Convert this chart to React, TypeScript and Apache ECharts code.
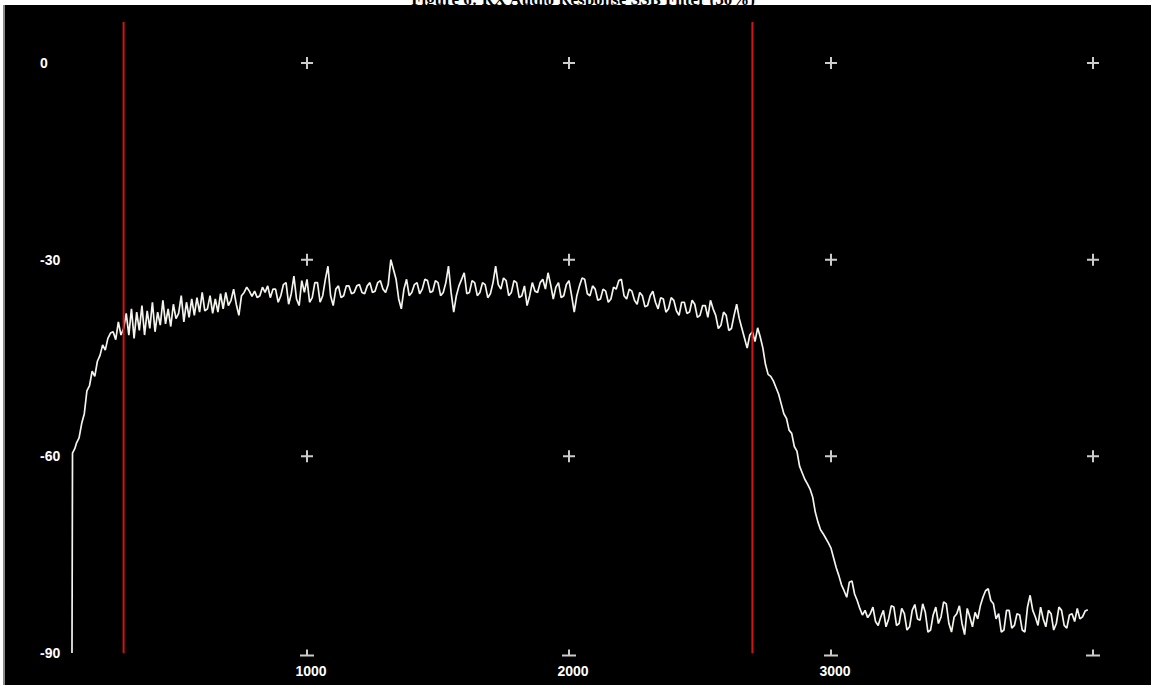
import { useEffect, useRef } from "react";
import * as echarts from "echarts";

const TITLE = "Figure 6: RX Audio Response SSB Filter (30%)";
const X_LABELS = [1000, 2000, 3000];
const CROSS_X = [1000, 2000, 3000, 4000];
const CROSS_Y = [0, -30, -60];
const BASE_Y = -90;
const MARKER_HZ = [300, 2700];
const RISE_HZ = [103, 105, 114];
const RISE_DB = [-90, -59.5, -58.8];
const START_HZ = 120;
const STEP_HZ = 10;
const LEVEL_DB = [
  -58, -57.2, -55, -53.5, -50, -49.2, -47, -47.8, -45.5, -44.6,
  -43, -43.8, -42, -41.2, -41, -42.2, -39.5, -41.5, -40.5, -38.2,
  -41.5, -37.5, -42, -38, -40.8, -37, -41.5, -37.8, -40.5, -36.5,
  -41, -38, -40, -36.2, -39.8, -37.5, -40.2, -36.8, -39, -38.2,
  -35.5, -39.5, -36.5, -38.8, -36, -38.5, -35.8, -38, -35, -37.8,
  -37.5, -35.5, -38.2, -36, -38, -35.2, -37.5, -35, -37, -36.2,
  -34.5, -36.8, -38.5, -35.5, -35, -34.2, -34.8, -35.6, -34.8, -35.8,
  -35.5, -34.2, -35, -34, -35.8, -34.5, -34.5, -36.5, -35.5, -33.8,
  -33.5, -36.8, -35.2, -32.5, -36, -37, -33.2, -35, -33, -36.5,
  -35.8, -33.5, -33.5, -36.5, -35.5, -33, -31, -35.5, -37, -34.5,
  -34, -35.8, -35.5, -34, -34, -35.2, -35, -34, -33.8, -35,
  -35.2, -34, -33.5, -35, -34.8, -33.5, -33.2, -34.5, -35, -33.8,
  -30, -31.5, -33, -36, -37.5, -34.5, -33, -35.5, -35, -33.8,
  -33.5, -35.2, -34.5, -33, -33.2, -35, -34.8, -33.2, -33.5, -35.5,
  -35, -33.5, -31, -35, -38, -35.5, -34, -33, -32, -35.2,
  -35, -33.2, -33.5, -35.5, -35, -33.5, -33.8, -35.8, -35.2, -33.5,
  -31, -33.8, -34.5, -32.8, -33.2, -35.5, -35, -33.2, -33.5, -35.8,
  -35.5, -34, -37, -35.5, -33.5, -34.8, -35, -33.5, -33, -34.5,
  -32, -33.8, -36, -34.2, -33.5, -35.8, -35.5, -33.8, -33.2, -35.5,
  -38, -35.5, -34, -32.8, -33, -35.2, -35.5, -34, -34.5, -36.2,
  -36, -34.5, -34.8, -36.5, -36, -34.2, -34.5, -33.2, -33, -35.5,
  -36, -34.5, -34.8, -36.2, -36.8, -35, -35.5, -37.2, -37, -35.5,
  -34.8, -36.5, -37.5, -35.8, -36, -38, -37.5, -35.8, -36.2, -37.8,
  -38.5, -36.5, -36.5, -38.2, -38, -36.2, -36.8, -38.8, -38.5, -37,
  -37, -38.8, -36.2, -37.5, -38.5, -40.5, -40, -38, -38.5, -40.8,
  -40.5, -38.5, -36.8, -39, -40.5, -42, -43.5, -41.5, -41, -42.5,
  -40.4, -41.8, -43.5, -46, -47.5, -47.8, -48.5, -49.5, -50.5, -52,
  -53.5, -54.2, -56, -56.5, -58.5, -59.2, -61.5, -62.5, -63.5, -64.2,
  -65, -66.2, -68.5, -70, -71.2, -71.8, -72.5, -73.2, -74, -75.5,
  -77, -78.2, -79.6, -80.5, -81.5, -79.2, -79, -81, -82, -83.2,
  -84.2, -83.5, -84.6, -84, -83, -85.2, -85.8, -84.5, -83.5, -86,
  -84.8, -82.8, -83, -85.8, -85.5, -83.2, -84, -86.5, -86, -83.5,
  -82.6, -84.8, -85, -82.5, -83.8, -86.8, -86.5, -84.2, -83, -85.5,
  -84.5, -82.2, -82.5, -85.5, -86.8, -84.5, -84, -82.8, -85.5, -87.2,
  -83.2, -84.5, -86, -83.8, -84.8, -82.8, -81.5, -80.5, -80.2, -82,
  -82.5, -84.8, -84, -86.8, -86.5, -83.5, -83.5, -86.2, -85.8, -84,
  -84.2, -86.5, -86.8, -83, -81.2, -83.5, -84.5, -85.8, -83, -84.8,
  -86, -83.5, -84, -86.5, -85.5, -83, -83.5, -85.8, -86.2, -84.2,
  -84, -85.2, -83.2, -84.8, -84.5, -83.6, -83.4,
];

const Y_MIN = -90;
const Y_MAX = 6.25;
const LABEL_FONT = '"Liberation Sans", Arial, sans-serif';

export default function App() {
  const ref = useRef<HTMLDivElement>(null);
  useEffect(() => {
    const chart = echarts.init(ref.current!, null, { renderer: "svg" });
    const trace = [
      ...RISE_HZ.map((f, i) => [f, RISE_DB[i]]),
      ...LEVEL_DB.map((v, i) => [START_HZ + i * STEP_HZ, v]),
    ];
    const crosses = CROSS_X.flatMap((x) => CROSS_Y.map((y) => [x, y]));
    const bases = CROSS_X.map((x) => [x, BASE_Y]);
    chart.setOption({
      animation: false,
      backgroundColor: "#000",
      grid: { left: 45, right: 58, top: 22, bottom: 32 },
      graphic: [
        { type: "rect", shape: { x: 0, y: 0, width: 1151, height: 5 }, style: { fill: "#fff" } },
        { type: "rect", shape: { x: 0, y: 0, width: 3, height: 685 }, style: { fill: "#fff" } },
        { type: "rect", shape: { x: 3, y: 5, width: 2, height: 680 }, style: { fill: "#8a8a8a" } },
        {
          type: "text",
          x: 583,
          y: 8,
          style: {
            text: TITLE,
            font: 'bold 17px "Liberation Serif", "Times New Roman", serif',
            fill: "#000",
            textAlign: "center",
            textVerticalAlign: "bottom",
          },
        },
      ],
      xAxis: {
        type: "value",
        min: 0,
        max: 4000,
        interval: 1000,
        axisLine: { show: false },
        axisTick: { show: false },
        splitLine: { show: false },
        axisLabel: {
          color: "#fff",
          fontSize: 14,
          fontWeight: "bold",
          fontFamily: LABEL_FONT,
          margin: 11,
          padding: [0, 0, 0, 8],
          formatter: (v: number) => (X_LABELS.includes(v) ? String(v) : ""),
        },
      },
      yAxis: {
        type: "value",
        min: Y_MIN,
        max: Y_MAX,
        interval: 30,
        axisLine: { show: false },
        axisTick: { show: false },
        splitLine: { show: false },
        axisLabel: {
          inside: true,
          margin: -5,
          color: "#fff",
          fontSize: 14,
          fontWeight: "bold",
          fontFamily: LABEL_FONT,
          formatter: (v: number) => (v % 30 === 0 ? String(v) : ""),
        },
      },
      series: [
        {
          type: "scatter",
          data: crosses,
          symbol: "path://M0,5h12v2h-12z M5,0h2v12h-2z",
          symbolSize: 12,
          itemStyle: { color: "#fff" },
          silent: true,
          z: 3,
        },
        {
          type: "scatter",
          data: bases,
          symbol: "path://M6,0h2v5h-2z M0,5h14v2h-14z",
          symbolSize: [14, 7],
          itemStyle: { color: "#fff" },
          silent: true,
          z: 3,
        },
        {
          type: "line",
          data: trace,
          showSymbol: false,
          lineStyle: { color: "#f4f4ec", width: 1.7 },
          silent: true,
          z: 4,
        },
        ...MARKER_HZ.map((f) => ({
          type: "line",
          data: [
            [f, Y_MIN],
            [f, Y_MAX],
          ],
          showSymbol: false,
          lineStyle: { color: "#d41414", width: 2 },
          silent: true,
          z: 5,
        })),
      ],
    });
    return () => chart.dispose();
  }, []);
  return (
    <div
      ref={ref}
      style={{ position: "absolute", left: 0, top: 0, width: 1151, height: 685 }}
    />
  );
}
